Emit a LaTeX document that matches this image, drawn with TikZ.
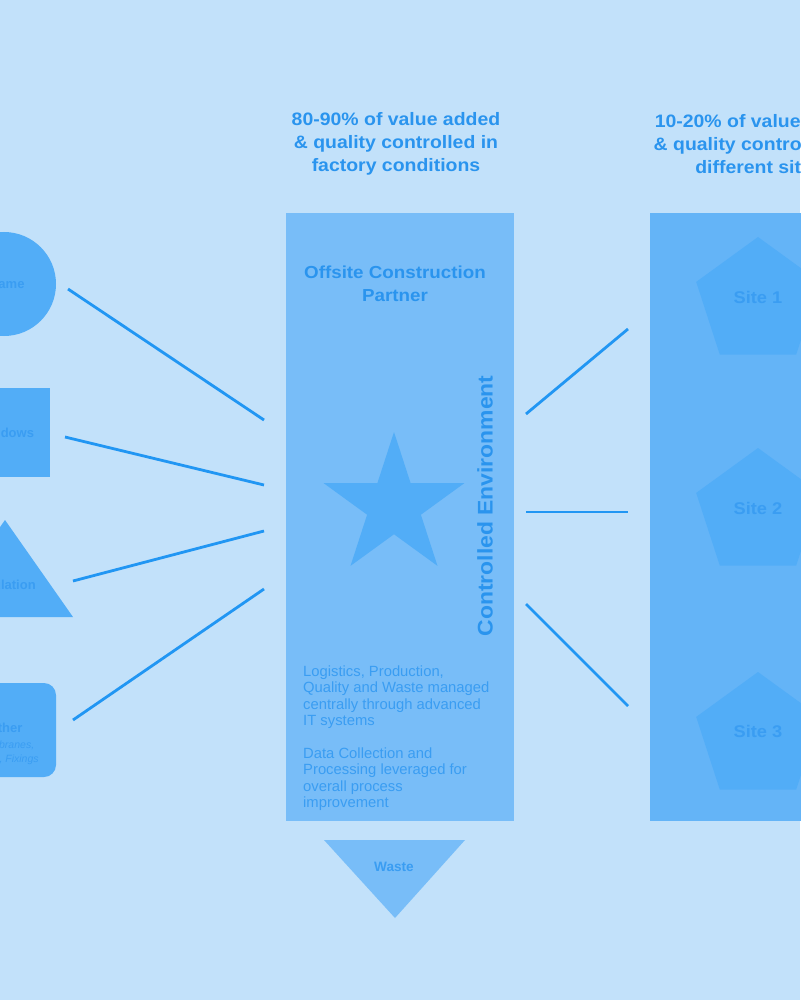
\documentclass[tikz,border=0pt]{standalone}
\usepackage{fontspec}
\setmainfont{Liberation Sans}
\newfontfamily\widefont[FakeStretch=1.08]{Liberation Sans}
\usetikzlibrary{shapes.geometric}
\definecolor{bg}{HTML}{C2E1FA}
\definecolor{panelA}{HTML}{78BDF8}
\definecolor{panelB}{HTML}{64B4F7}
\definecolor{shapeC}{HTML}{52ADF7}
\definecolor{lineC}{HTML}{2196F3}
\definecolor{txtC}{HTML}{2A94EE}
\definecolor{shtxt}{HTML}{3A9DF2}
\tikzset{
  conn/.style={draw=lineC, line width=2.8pt},
  shp/.style={fill=shapeC, draw=none},
  heading/.style={text=txtC, font=\widefont\bfseries\fontsize{18}{23}\selectfont, align=center, inner sep=0},
  shlabel/.style={text=shtxt, font=\bfseries\fontsize{13}{15}\selectfont, inner sep=0},
  sitelabel/.style={text=shtxt, font=\widefont\bfseries\fontsize{16.9}{20}\selectfont, inner sep=0},
  body/.style={text=shtxt, font=\fontsize{14.8}{16.5}\selectfont, align=left, inner sep=0, anchor=base west},
  penta/.style={regular polygon, regular polygon sides=5, minimum size=130pt, inner sep=0, fill=shapeC, draw=none},
}
\begin{document}
\begin{tikzpicture}[x=1pt,y=-1pt]
\fill[bg] (0,0) rectangle (800,1000);
\useasboundingbox (0,0) rectangle (800,1000);

% headings
\node[heading] (h1) at (396,144) {80-90\% of value added\\\& quality controlled in\\factory conditions};
\node[heading] (h2) at (759,144) {10-20\% of value added\\\& quality controlled on\\different sites};

% panels
\fill[panelA] (286,213) rectangle (514,821);
\fill[panelB] (650,213) rectangle (820,821);

% left shapes
\node[circle, shp, minimum size=104pt, inner sep=0] (frame) at (4,284) {};
\node[shlabel] (framet) at (5,284) {Frame};
\fill[shapeC] (-38,388) rectangle (50,477);
\node[shlabel] (windows) at (5.5,433) {Windows};
\fill[shapeC] (5,520) -- (73,617) -- (-63,617) -- cycle;
\node[shlabel] (insul) at (5,585) {Insulation};
\fill[shapeC, rounded corners=12pt] (-46,683) rectangle (56,777);
\node[shlabel] (other) at (5,728) {Other};
\node[text=shtxt, font=\itshape\fontsize{10.5}{13.5}\selectfont, align=center, inner sep=0] (othersub) at (5,753) {Membranes,\\Tapes, Fixings};

% center panel contents
\node[text=txtC, font=\widefont\bfseries\fontsize{17.4}{23}\selectfont, align=center, inner sep=0] (ocp) at (395,283.5) {Offsite Construction\\Partner};
\node[star, star points=5, star point ratio=2.618, minimum size=148pt, inner sep=0, fill=shapeC] (star) at (394,506) {};
\node[text=txtC, font=\widefont\bfseries\fontsize{21.2}{24}\selectfont, rotate=90, inner sep=0] (ce) at (485,506) {Controlled Environment};
\node[body] (p1) at (303,725.5) {Logistics, Production,\\Quality and Waste managed\\centrally through advanced\\IT systems};
\node[body] (p2) at (303,807.5) {Data Collection and\\Processing leveraged for\\overall process\\improvement};

% waste
\fill[panelA] (324,840) -- (465,840) -- (395,918) -- cycle;
\node[text=shtxt, font=\bfseries\fontsize{13.6}{15}\selectfont, inner sep=0] (waste) at (394,867) {Waste};

% sites
\node[penta] (s1) at (758,302) {};
\node[sitelabel] (s1t) at (758,297) {Site 1};
\node[penta] (s2) at (758,513) {};
\node[sitelabel] (s2t) at (758,508) {Site 2};
\node[penta] (s3) at (758,737) {};
\node[sitelabel] (s3t) at (758,731) {Site 3};

% connector end points
\coordinate (a1) at (68,289);  \coordinate (b1) at (264,420);
\coordinate (a2) at (65,437);  \coordinate (b2) at (264,485);
\coordinate (a3) at (73,581);  \coordinate (b3) at (264,531);
\coordinate (a4) at (73,720);  \coordinate (b4) at (264,589);
\coordinate (c1) at (526,414); \coordinate (d1) at (628,329);
\coordinate (c2) at (526,512); \coordinate (d2) at (628,512);
\coordinate (c3) at (526,604); \coordinate (d3) at (628,706);

\draw[conn] (a1) -- (b1);
\draw[conn] (a2) -- (b2);
\draw[conn] (a3) -- (b3);
\draw[conn] (a4) -- (b4);
\draw[conn] (c1) -- (d1);
\draw[conn] (c2) -- (d2);
\draw[conn] (c3) -- (d3);
\end{tikzpicture}
\end{document}
